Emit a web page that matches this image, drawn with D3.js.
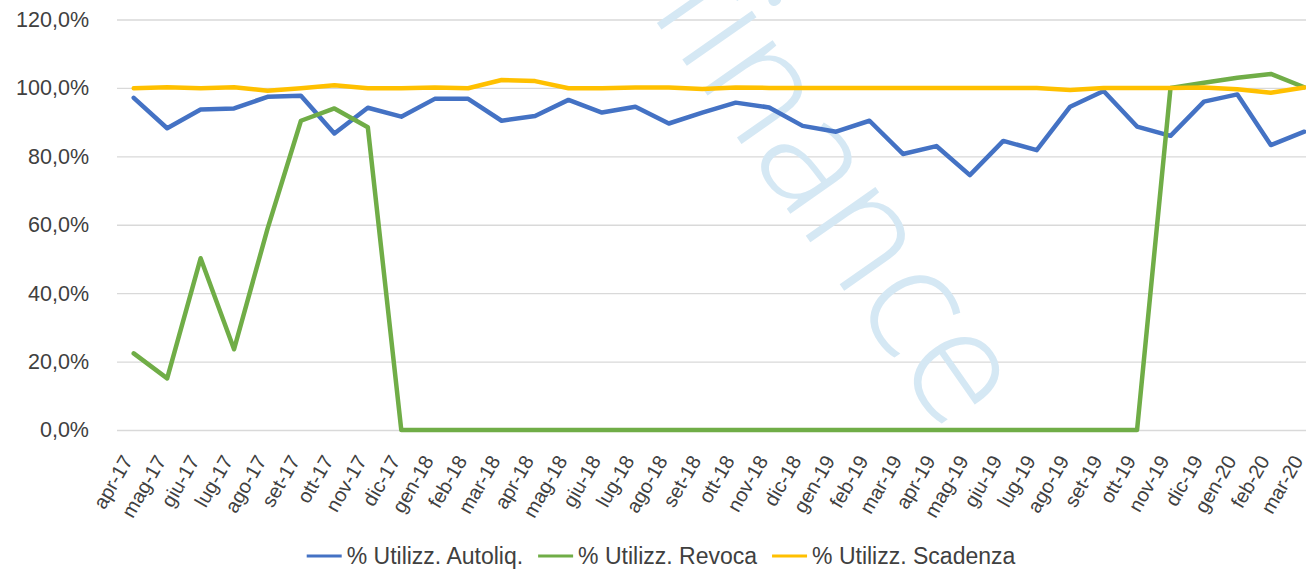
<!DOCTYPE html>
<html>
<head>
<meta charset="utf-8">
<script src="https://cdn.jsdelivr.net/npm/d3@7"></script>
<style>
  html, body { margin: 0; padding: 0; background: #fff; overflow: hidden; }
  svg { display: block; font-family: "Liberation Sans", Arial, sans-serif; }
</style>
</head>
<body>
<svg id="chart" width="1306" height="570"></svg>
<script>
// Monthly utilisation rates (%), April 2017 – March 2020
const months = [
  "apr-17","mag-17","giu-17","lug-17","ago-17","set-17","ott-17","nov-17","dic-17",
  "gen-18","feb-18","mar-18","apr-18","mag-18","giu-18","lug-18","ago-18","set-18",
  "ott-18","nov-18","dic-18","gen-19","feb-19","mar-19","apr-19","mag-19","giu-19",
  "lug-19","ago-19","set-19","ott-19","nov-19","dic-19","gen-20","feb-20","mar-20"
];
const autoliq = [
  97.1, 88.2, 93.7, 94.0, 97.4, 97.7, 86.7, 94.2, 91.6,
  96.8, 96.8, 90.4, 91.8, 96.5, 92.8, 94.5, 89.6, 92.8,
  95.7, 94.3, 88.9, 87.2, 90.4, 80.7, 83.0, 74.5, 84.5,
  81.8, 94.5, 99.1, 88.7, 86.0, 96.0, 98.1, 83.3, 87.2
];
const revoca = [
  22.4, 15.1, 50.2, 23.6, 58.8, 90.4, 94.0, 88.5, 0,
  0, 0, 0, 0, 0, 0, 0, 0, 0,
  0, 0, 0, 0, 0, 0, 0, 0, 0,
  0, 0, 0, 0, 100.0, 101.5, 103.0, 104.1, 100.2
];
const scadenza = [
  99.9, 100.2, 99.9, 100.2, 99.2, 99.9, 100.8, 99.9, 99.9,
  100.1, 99.9, 102.3, 102.0, 99.9, 99.9, 100.1, 100.1, 99.7,
  100.1, 100.0, 100.0, 100.0, 100.0, 100.0, 100.0, 100.0, 100.0,
  100.0, 99.4, 100.0, 100.0, 100.0, 100.1, 99.6, 98.6, 100.1
];
const yTicks = [0, 20, 40, 60, 80, 100, 120];
const seriesNames = ["% Utilizz. Autoliq.", "% Utilizz. Revoca", "% Utilizz. Scadenza"];
const seriesColors = ["#4472C4", "#70AD47", "#FFC000"];

const series = [autoliq, revoca, scadenza].map((values, i) => ({
  name: seriesNames[i], color: seriesColors[i], values
}));

const svg = d3.select("#chart");
const plot = { left: 117, right: 1321, top: 19.5, bottom: 430 };

const x = d3.scalePoint().domain(months).range([plot.left, plot.right]).padding(0.5);
const y = d3.scaleLinear().domain([0, 120]).range([plot.bottom, plot.top]);

const it = d3.formatLocale({ decimal: ",", thousands: ".", grouping: [3], currency: ["€", ""] });
const pct = it.format(".1%");

// Horizontal gridlines and value labels
const yAxis = svg.append("g")
  .attr("transform", `translate(${plot.left},0)`)
  .call(d3.axisLeft(y).tickValues(yTicks).tickSize(-(plot.right - plot.left)).tickPadding(28)
    .tickFormat(d => pct(d / 100)));
yAxis.select(".domain").remove();
yAxis.selectAll(".tick line").attr("stroke", "#d9d9d9").attr("stroke-width", 1.3);
yAxis.selectAll(".tick text")
  .attr("fill", "#404040").attr("font-size", 21.5)
  .attr("font-family", "Liberation Sans, Arial, sans-serif");

// Watermark
svg.append("text")
  .attr("transform", "translate(946,436) rotate(55)")
  .attr("text-anchor", "end")
  .attr("font-family", "Open Sans, Lato, sans-serif")
  .attr("font-weight", 300)
  .attr("font-size", 160)
  .attr("fill", "#d5e8f4")
  .text("finance");

// Month labels
const xAxis = svg.append("g")
  .attr("transform", `translate(0,${plot.bottom})`)
  .call(d3.axisBottom(x).tickSize(0).tickPadding(0));
xAxis.select(".domain").remove();
xAxis.selectAll(".tick text")
  .attr("fill", "#404040").attr("font-size", 20)
  .attr("font-family", "Liberation Sans, Arial, sans-serif")
  .attr("text-anchor", "end")
  .attr("dy", "0.35em")
  .attr("transform", "translate(-7,27) rotate(-60)");

// Series lines
const line = d3.line()
  .x((d, i) => x(months[i]))
  .y(d => y(d));

svg.append("g").selectAll("path")
  .data(series)
  .join("path")
  .attr("d", s => line(s.values))
  .attr("fill", "none")
  .attr("stroke", s => s.color)
  .attr("stroke-width", 4.5)
  .attr("stroke-linejoin", "round")
  .attr("stroke-linecap", "round");

// Legend, centred under the chart
const legend = svg.append("g").attr("transform", "translate(0,556)");
const swatch = 35, gap = 5, spacing = 15;
const items = legend.selectAll("g").data(series).join("g");
items.append("line")
  .attr("x1", 0).attr("x2", swatch).attr("y1", 0).attr("y2", 0)
  .attr("stroke", s => s.color).attr("stroke-width", 3);
items.append("text")
  .attr("x", swatch + gap).attr("dy", "0.35em")
  .attr("fill", "#404040").attr("font-size", 23)
  .text(s => s.name);
const widths = [];
items.each(function () {
  widths.push(swatch + gap + d3.select(this).select("text").node().getComputedTextLength());
});
const total = d3.sum(widths) + spacing * (widths.length - 1);
let cx = 661 - total / 2;
items.attr("transform", (d, i) => {
  const t = `translate(${cx},0)`;
  cx += widths[i] + spacing;
  return t;
});
</script>
</body>
</html>
